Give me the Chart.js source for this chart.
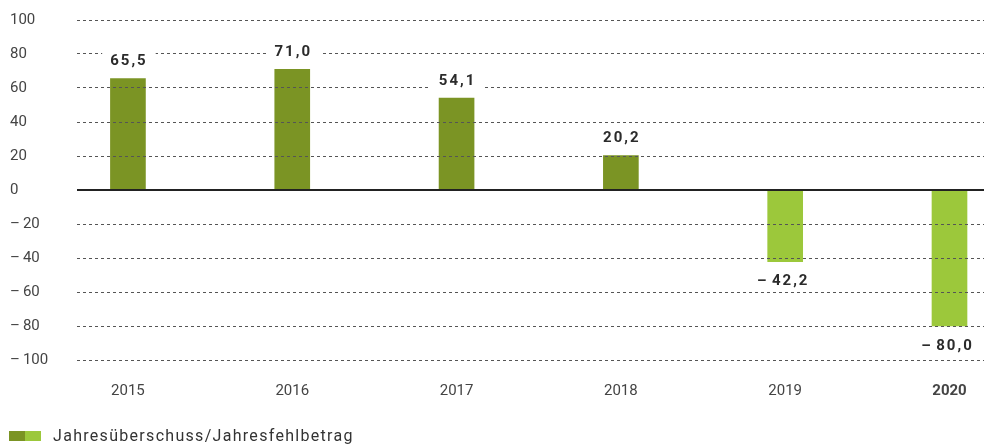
<!DOCTYPE html>
<html>
<head>
<meta charset="utf-8">
<script src="https://cdn.jsdelivr.net/npm/chart.js@4"></script>
<style>
  body { margin: 0; background: #fff; }
  #wrap { position: relative; width: 984px; height: 445px; }
  #legend { position: absolute; left: 9px; top: 426px; font: 16px Roboto, sans-serif; color: #333; letter-spacing: 1.3px; display: flex; align-items: center; }
  #legend .sw { width: 16px; height: 10px; display: inline-block; }
</style>
</head>
<body>
<div id="wrap">
  <canvas id="myChart" width="984" height="445"></canvas>
  <div id="legend"><span class="sw" style="background:#7b9424"></span><span class="sw" style="background:#9cc83b"></span><span style="margin-left:12px">Jahresüberschuss/Jahresfehlbetrag</span></div>
</div>
<script>
const years = ['2015', '2016', '2017', '2018', '2019', '2020'];
const values = [65.5, 71.0, 54.1, 20.2, -42.2, -80.0];
const yTicks = [100, 80, 60, 40, 20, 0, -20, -40, -60, -80, -100];

const darkGreen = '#7b9424';
const lightGreen = '#9cc83b';

function fmt(v, digits) {
  let s = Math.abs(v).toFixed(digits).replace('.', ',');
  return v < 0 ? '\u2013\u200a' + s : s;
}

// value labels above / below bars, on a white box that cuts the grid
const valueLabels = {
  id: 'valueLabels',
  afterDraw(chart) {
    const ctx = chart.ctx;
    const meta = chart.getDatasetMeta(0);
    ctx.save();
    ctx.font = 'bold 15px Roboto, sans-serif';
    ctx.textAlign = 'center';
    ctx.textBaseline = 'middle';
    ctx.letterSpacing = '2px';
    meta.data.forEach((bar, i) => {
      const v = values[i];
      const txt = fmt(v, 1);
      const w = ctx.measureText(txt).width;
      const cy = v >= 0 ? bar.y - 17 : bar.y + 20;
      const cx = v >= 0 ? bar.x + 1 : bar.x - 2;
      ctx.fillStyle = '#fff';
      ctx.fillRect(cx - w / 2 - 8, cy - 9, w + 16, 18);
      ctx.fillStyle = '#2b2b2b';
      ctx.fillText(txt, cx, cy);
    });
    ctx.restore();
  }
};

const ctx = document.getElementById('myChart');

new Chart(ctx, {
  type: 'bar',
  data: {
    datasets: [{
      data: values.map((v, i) => ({ x: i, y: v })),
      backgroundColor: values.map(v => v >= 0 ? darkGreen : lightGreen),
      barThickness: 35,
      borderWidth: 0
    }]
  },
  options: {
    responsive: false,
    animation: false,
    layout: { padding: { left: 10, top: 20, right: 0, bottom: 0 } },
    plugins: { legend: { display: false }, tooltip: { enabled: false } },
    scales: {
      x: {
        type: 'linear',
        offset: false,
        min: -0.31,
        max: 5.21,
        grid: { display: false },
        border: { display: false },
        afterBuildTicks: s => { s.ticks = years.map((_, i) => ({ value: i })); },
        afterFit: s => { s.height = 85; },
        ticks: {
          padding: 14,
          color: '#444',
          font: c => ({ family: 'Roboto, sans-serif', size: 15, weight: c.index === 5 ? 'bold' : 'normal' }),
          callback: v => years[v]
        }
      },
      y: {
        min: -100,
        max: 100,
        afterBuildTicks: s => { s.ticks = yTicks.map(v => ({ value: v })); },
        afterFit: s => { s.width = 67; },
        border: { display: false, dash: c => c.tick && c.tick.value === 0 ? [] : [3, 3] },
        grid: {
          z: 1,
          drawTicks: false,
          color: c => c.tick && c.tick.value === 0 ? '#222' : '#555',
          lineWidth: c => c.tick && c.tick.value === 0 ? 2 : 1
        },
        ticks: {
          crossAlign: 'far',
          padding: 0,
          color: '#444',
          font: { family: 'Roboto, sans-serif', size: 15 },
          callback: v => v < 0 ? '\u2013\u2009' + Math.abs(v) : String(v)
        }
      }
    }
  },
  plugins: [valueLabels]
});
</script>
</body>
</html>
